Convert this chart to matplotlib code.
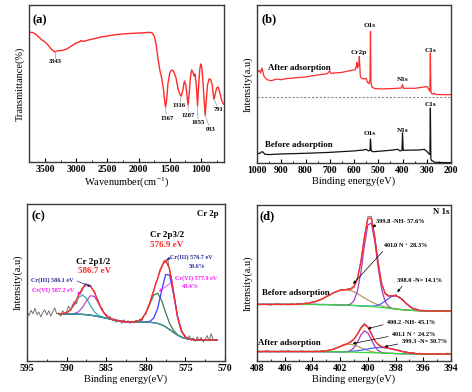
import matplotlib.pyplot as plt
import numpy as np
from matplotlib.ticker import MultipleLocator

plt.rcParams['font.family'] = ['Liberation Serif', 'DejaVu Serif']
plt.rcParams['font.weight'] = 'bold'
plt.rcParams['mathtext.default'] = 'regular'
plt.rcParams['axes.linewidth'] = 1.0
plt.rcParams['axes.edgecolor'] = '#3a3a3a'

# ---------------- (a) FTIR ----------------
ir_wn = [3750, 3700, 3650, 3600, 3550, 3500, 3450, 3400, 3343, 3300, 3250, 3200, 3150, 3100,
         3050, 3000, 2950, 2920, 2900, 2850, 2800, 2700, 2600, 2500, 2400, 2300, 2200, 2100,
         2000, 1900, 1820, 1780, 1750, 1720, 1690, 1660, 1630, 1600, 1580, 1567, 1550, 1530,
         1500, 1470, 1440, 1400, 1370, 1340, 1316, 1290, 1265, 1245, 1225, 1207, 1190, 1170,
         1150, 1130, 1110, 1095, 1075, 1055, 1040, 1020, 1005, 990, 970, 950, 933, 915, 895,
         870, 845, 820, 800, 791, 775, 750, 725, 700, 670, 640]
ir_t = [84.1, 84.0, 83.1, 81.4, 79.7, 78.5, 76.7, 74.4, 72.7, 73.3, 73.5, 73.8, 74.4, 75.6,
        76.7, 77.9, 78.5, 79.4, 78.8, 79.1, 79.7, 80.5, 81.4, 82.0, 82.6, 83.0, 83.3, 83.5,
        83.7, 83.9, 84.1, 83.7, 82.0, 77.3, 69.2, 62.2, 57.6, 50.6, 43.6, 40.7, 44.8, 54.1,
        60.5, 62.2, 61.6, 57.6, 51.7, 48.3, 47.1, 50.6, 55.8, 54.1, 47.7, 41.9, 47.7, 57.6,
        62.2, 61.0, 58.7, 59.9, 53.5, 41.3, 51.7, 62.2, 65.7, 64.5, 56.4, 44.8, 36.0, 44.8, 53.5,
        57.0, 56.7, 53.5, 47.1, 45.3, 47.7, 51.7, 52.3, 49.4, 44.8, 42.4]
ir_peaks = [3343, 1567, 1316, 1207, 1055, 933, 791]

# ---------------- (b) XPS survey ----------------
b_after_e = [1000, 995, 990, 985, 980, 977, 972, 965, 955, 940, 920, 900, 880, 850, 800, 750,
             710, 700, 695, 650, 610, 595, 590, 588, 586, 580, 578, 576, 574, 570, 560, 550,
             545, 538, 534, 532, 530, 526, 515, 480, 420, 405, 400, 396, 350, 310, 300, 292,
             287, 285, 283, 280, 275, 270, 265, 250, 200]
b_after_i = [59.1, 58.1, 58.7, 57.0, 60.2, 58.7, 55.3, 53.7, 52.6, 52.2, 53.2, 52.8, 53.5, 53.9,
             54.5, 55.8, 56.6, 58.3, 56.8, 57.4, 58.7, 59.1, 61.6, 63.7, 60.2, 62.3, 67.5, 61.2,
             54.9, 53.9, 53.2, 53.7, 51.2, 50.3, 52.8, 83.2, 50.7, 48.2, 47.2, 47.0, 47.4, 47.6,
             49.7, 47.4, 47.4, 48.2, 48.6, 47.0, 45.5, 69.6, 45.5, 44.0, 43.8, 44.4, 43.6, 43.4,
             43.4]
b_before_e = [1000, 990, 980, 975, 968, 950, 900, 800, 700, 600, 560, 550, 540, 534, 532, 529,
              520, 450, 420, 410, 402, 400, 397, 330, 310, 300, 292, 287, 285, 283, 280, 275,
              270, 260, 200]
b_before_i = [6.7, 6.3, 7.5, 7.3, 5.9, 5.7, 6.1, 6.5, 7.1, 8.0, 8.6, 9.0, 8.0, 8.4, 15.5, 8.0,
              7.5, 8.4, 9.0, 8.0, 8.4, 19.3, 8.4, 8.6, 9.0, 7.8, 6.3, 5.7, 35.0, 2.9, 1.9, 1.7,
              1.0, 0.8, 0.6]
b_split = 41.9

# ---------------- (c) Cr 2p ----------------
c_raw = [30.5, 27.8, 31.2, 29.0, 32.5, 28.4, 30.1, 26.9, 29.8, 31.6,
         28.2, 30.9, 27.5, 30.2, 32.8, 28.9, 29.6, 27.4, 31.0, 28.6,
         30.3, 33.9, 31.2, 34.8, 36.9, 35.2, 41.5, 41.8, 44.2, 47.9,
         48.3, 47.2, 47.5, 44.6, 43.8, 39.9, 37.5, 33.2, 32.4, 28.9,
         28.6, 26.5, 27.3, 24.9, 25.9, 23.6, 25.2, 24.0, 22.9, 25.1,
         23.2, 24.6, 22.8, 24.3, 23.1, 24.9, 23.6, 25.6, 24.4, 28.1,
         28.7, 33.5, 34.9, 40.5, 43.2, 48.9, 51.0, 57.2, 58.1, 62.8,
         62.0, 64.5, 56.3, 52.1, 43.5, 35.6, 28.0, 23.2, 18.9, 16.1,
         14.8, 12.3, 14.9, 11.8, 13.5, 11.4, 14.2, 12.0, 13.8, 10.9,
         12.6, 15.0, 11.5, 16.3, 12.2]
c_bg = [29.0, 28.9, 28.9, 28.8, 28.8, 28.7, 28.6, 28.4, 28.1, 27.7, 27.2, 26.7, 26.2, 25.6,
        25.0, 24.5, 24.1, 23.9, 23.8, 23.7, 23.7, 23.6, 23.6, 23.5, 23.3, 22.8, 21.9, 20.6,
        18.9, 17.0, 15.3, 14.0, 13.2, 12.7, 12.4, 12.3, 12.2, 12.2, 12.1, 12.1, 12.1]
c_crvi_1 = [0, 0.16, 0.79, 2.64, 6.25, 10.5, 12.5, 10.5, 6.25, 2.64, 0.79, 0.16] + [0] * 29
c_criii_1 = [0, 0, 0, 0, 0.39, 1.56, 4.41, 8.81, 12.45, 12.45, 8.81, 4.41, 1.56, 0.39, 0.07] + [0] * 26
c_crvi_2 = [0] * 20 + [0.56, 2.1, 5.8, 11.8, 17.7, 19.4, 15.6, 9.2, 4.0, 1.3, 0.3] + [0] * 10
c_criii_2 = [0] * 22 + [0.08, 0.58, 2.9, 9.6, 21.9, 33.6, 34.9, 24.6, 11.7, 3.8, 0.82, 0.12] + [0] * 7

# ---------------- (d) N 1s ----------------
d_raw_before = [34.9, 34.3, 35.0, 34.5, 34.1, 34.8, 35.2, 34.4, 34.7, 34.2, 35.1, 34.6, 35.3,
                34.6, 35.6, 35.2, 36.4, 36.1, 37.8, 38.0, 39.9, 40.4, 42.3, 42.6, 44.1, 43.6,
                44.6, 44.9, 46.6, 51.9, 63.0, 78.5, 91.2, 91.5, 78.6, 61.5, 48.3, 41.9, 40.5,
                39.6, 41.0, 38.8, 38.1, 34.9, 33.9, 31.5, 31.8, 30.2, 31.0, 29.9, 30.8, 30.0,
                30.7, 30.1, 30.6, 29.8, 30.4]
d_raw_after = [4.6, 3.9, 4.4, 4.8, 4.0, 4.5, 3.8, 4.6, 4.2, 4.9, 3.9, 4.4, 4.1, 4.7, 4.0, 4.5,
               3.9, 4.6, 4.3, 5.0, 4.6, 5.4, 5.5, 6.9, 7.3, 8.9, 9.0, 10.8, 12.4, 15.8, 19.8,
               22.4, 20.3, 16.1, 11.0, 9.1, 7.0, 7.3, 6.1, 6.3, 5.0, 5.2, 3.9, 4.1, 3.1, 3.6,
               2.6, 3.2, 2.4, 3.0, 2.5, 3.1, 2.3, 2.9, 2.6, 3.2, 2.7]
d_bg_before = [34.6] * 12 + [34.6, 34.6, 34.6, 34.6, 34.6, 34.6, 34.5, 34.5, 34.5, 34.4, 34.4,
               34.3, 34.2, 34.1, 34.0, 34.0, 33.9, 33.8, 33.6, 33.5, 33.4, 33.2, 33.0, 32.8,
               32.6, 32.4, 32.1, 31.9, 31.6, 31.4, 31.2, 31.0, 30.8, 30.7, 30.6, 30.5, 30.4,
               30.4, 30.4, 30.3, 30.3] + [30.3] * 4
d_nh_before = [0] * 26 + [0.15, 0.79, 3.1, 9.5, 22.0, 38.9, 52.4, 53.8, 42.2, 25.2, 11.4, 4.0,
                          1.06, 0.22] + [0] * 17
d_np_before = [0] * 12 + [0.18, 0.32, 0.54, 0.87, 1.35, 2.0, 2.86, 3.89, 5.06, 6.32, 7.55, 8.64,
                          9.46, 9.92, 9.97, 9.58, 8.82, 7.78, 6.57, 5.31, 4.11, 3.05, 2.16, 1.47,
                          0.96, 0.6, 0.36, 0.2, 0.11, 0.05] + [0] * 15
d_n_before = [0] * 32 + [0.075, 0.23, 0.6, 1.34, 2.6, 4.37, 6.32, 7.9, 8.5, 7.9, 6.32, 4.37, 2.6,
                         1.34, 0.6, 0.23, 0.075] + [0] * 8
d_bg_after = [4.2] * 12 + [4.2, 4.2, 4.2, 4.2, 4.2, 4.2, 4.15, 4.1, 4.1, 4.1, 4.05, 4.0, 4.0,
                           3.95, 3.9, 3.85, 3.8, 3.7, 3.65, 3.6, 3.5, 3.4, 3.35, 3.3, 3.2, 3.1,
                           3.05, 3.0, 2.9, 2.85, 2.8, 2.75, 2.7, 2.65, 2.6, 2.6, 2.6, 2.6, 2.6,
                           2.6, 2.6] + [2.6] * 4
d_nh_after = [0] * 26 + [0.22, 0.92, 2.9, 6.6, 11.2, 13.9, 12.7, 8.5, 4.2, 1.5, 0.4, 0.08] + [0] * 19
d_np_after = [0] * 18 + [0.11, 0.26, 0.52, 0.97, 1.62, 2.47, 3.41, 4.27, 4.85, 4.99, 4.66, 3.95,
                         3.03, 2.11, 1.34, 0.77, 0.4, 0.19, 0.08] + [0] * 20
d_n_after = [0] * 24 + [0.09, 0.16, 0.27, 0.44, 0.69, 1.02, 1.42, 1.89, 2.38, 2.85, 3.25, 3.51,
                        3.6, 3.51, 3.25, 2.85, 2.38, 1.89, 1.42, 1.02, 0.69, 0.44, 0.27, 0.16,
                        0.09, 0.05] + [0] * 7

W, H = 472, 392
RED = '#ff2a2a'


def box(l, t, r, b):
    return [l / W, 1 - b / H, (r - l) / W, (b - t) / H]


def style(ax, xmaj, xmin, xlabel):
    ax.set_yticks([])
    ax.xaxis.set_major_locator(MultipleLocator(xmaj))
    ax.xaxis.set_minor_locator(MultipleLocator(xmin))
    ax.tick_params(axis='x', which='major', direction='in', labelsize=7, length=3, width=0.8, pad=2)
    ax.tick_params(axis='x', which='minor', direction='in', length=1.5, width=0.6)
    ax.set_xlabel(xlabel, fontsize=7.5, labelpad=1)


fig = plt.figure(figsize=(4.72, 3.92), dpi=100)

# (a)
ax = fig.add_axes(box(29, 5, 224, 162))
ax.plot(ir_wn, ir_t, color=RED, lw=1.0)
ax.set_xlim(3756, 631)
ax.set_ylim(8.7, 100)
style(ax, 500, 250, 'Wavenumber(cm$^{-1}$)')
ax.set_ylabel('Transmittance(%)', fontsize=7.5, labelpad=3)
ax.text(0.02, 0.905, '(a)', transform=ax.transAxes, fontsize=9, va='center')
lab_pos = [(3340, 66.9), (1550, 34.1), (1348, 41.3), (1204, 36.0), (1043, 31.6), (840, 27.7), (723, 39.4)]
line_end = [(3343, 69.3), (1558, 36.5), (1335, 43.6), (1205, 38.3), (1050, 33.9), (875, 30.0), (750, 41.7)]
for p, (tx, ty), (lx, ly) in zip(ir_peaks, lab_pos, line_end):
    yv = ir_t[ir_wn.index(p)]
    ax.plot([p, lx], [yv, ly], color='#999999', lw=0.5)
    ax.text(tx, ty, str(p), fontsize=4.8, ha='center', va='center')

# (b)
ax = fig.add_axes(box(257, 5, 451, 163))
ax.plot(b_after_e, b_after_i, color=RED, lw=0.9)
ax.plot(b_before_e, b_before_i, color='#111111', lw=0.9)
ax.axhline(b_split, color='#888888', lw=0.8, ls=(0, (2, 1.5)))
ax.set_xlim(1000, 200)
ax.set_ylim(0.4, 99.8)
style(ax, 100, 50, 'Binding energy(eV)')
ax.set_ylabel('Intensity(a.u)', fontsize=7.5, labelpad=3)
ax.text(0.024, 0.911, '(b)', transform=ax.transAxes, fontsize=9, va='center')
ax.text(955, 60.4, 'After adsorption', fontsize=6.3, va='center')
ax.text(967, 11.5, 'Before adsorption', fontsize=6.3, va='center')
for s, x, y in [('Cr2p', 579, 70.0), ('O1s', 534, 86.8), ('N1s', 397, 52.8), ('C1s', 284, 71.3),
                ('O1s', 534, 18.7), ('N1s', 399, 20.8), ('C1s', 284, 37.1)]:
    ax.text(x, y, s, fontsize=5.2, ha='center', va='center')

# (c)
ax = fig.add_axes(box(27, 204, 225, 361))
ce = np.linspace(591, 571, len(c_bg))
cbg = np.array(c_bg)
ax.plot(np.linspace(595, 571.5, len(c_raw)), c_raw, color='#606060', lw=0.6)
ax.plot(ce, cbg + c_crvi_1, color='#3fb0a0', lw=0.9)
ax.plot(ce, cbg + c_criii_1, color='#b050d0', lw=0.9)
ax.plot(ce, cbg + c_crvi_2, color='#3a7d4a', lw=0.9)
ax.plot(ce, cbg + c_criii_2, color='#3c3cff', lw=0.9)
ax.plot(ce, cbg, color='#3aa08c', lw=0.9)
ax.plot(ce, cbg + np.array(c_crvi_1) + c_criii_1 + np.array(c_crvi_2) + c_criii_2, color=RED, lw=1.0)
ax.set_xlim(595, 570)
ax.set_ylim(-1.3, 99.4)
style(ax, 5, 2.5, 'Binding energy(eV)')
ax.set_ylabel('Intensity(a.u)', fontsize=7.5, labelpad=3)
ax.text(0.025, 0.919, '(c)', transform=ax.transAxes, fontsize=9, va='center')
ax.text(570.8, 93, 'Cr 2p', fontsize=6.3, ha='right', va='center')
ax.text(586.7, 62.4, 'Cr 2p1/2', fontsize=6.6, ha='center', va='center')
ax.text(586.5, 56.4, '586.7 eV', fontsize=6.6, ha='center', va='center', color=RED)
ax.text(577.3, 79.5, 'Cr 2p3/2', fontsize=6.6, ha='center', va='center')
ax.text(577.3, 73.1, '576.9 eV', fontsize=6.6, ha='center', va='center', color=RED)
NAVY, MAG = '#2b2ba0', '#ff10ff'
ax.text(577.0, 65.6, 'Cr(III) 576.7 eV', fontsize=4.4, va='center', color=NAVY)
ax.text(573.5, 59.6, '59.6%', fontsize=4.4, ha='center', va='center', color=NAVY)
ax.text(576.3, 51.7, 'Cr(VI) 577.9 eV', fontsize=4.4, va='center', color=MAG)
ax.text(574.4, 46.3, '40.4%', fontsize=4.4, ha='center', va='center', color=MAG)
ax.text(594.5, 50.6, 'Cr(III) 586.1 eV', fontsize=4.4, va='center', color=NAVY)
ax.text(594.4, 44.0, 'Cr(VI) 587.2 eV', fontsize=4.4, va='center', color=MAG)
arr = dict(arrowstyle='-|>', lw=0.5, mutation_scale=4)
ax.annotate('', xy=(586.6, 45.7), xytext=(589.0, 50.6), arrowprops=dict(arr, color=NAVY))
ax.annotate('', xy=(587.9, 40.4), xytext=(588.9, 43.5), arrowprops=dict(arr, color=MAG))
ax.annotate('', xy=(577.5, 62.0), xytext=(577.0, 64.8), arrowprops=dict(arr, color=NAVY))
ax.annotate('', xy=(578.6, 42.2), xytext=(576.4, 50.5), arrowprops=dict(arr, color=MAG))

# (d)
ax = fig.add_axes(box(257, 205, 451, 361))
de = np.linspace(408, 394, len(d_raw_before))
for raw, bg, nh, npl, n in [(d_raw_before, d_bg_before, d_nh_before, d_np_before, d_n_before),
                            (d_raw_after, d_bg_after, d_nh_after, d_np_after, d_n_after)]:
    bg = np.array(bg)
    ax.plot(de, raw, color='#707070', lw=0.6)
    ax.plot(de, bg + npl, color='#b0a060', lw=0.9)
    ax.plot(de, bg + n, color='#4060ff', lw=0.9)
    ax.plot(de, bg + nh, color='#a040c0', lw=0.9)
    ax.plot(de, bg, color='#33dd33', lw=0.9)
    ax.plot(de, bg + np.array(nh) + npl + np.array(n), color=RED, lw=1.0)
ax.set_xlim(408, 394)
ax.set_ylim(-1.9, 98.7)
style(ax, 2, 1, 'Binding energy(eV)')
ax.set_ylabel('Intensity(a.u)', fontsize=7.5, labelpad=3)
ax.text(0.015, 0.925, '(d)', transform=ax.transAxes, fontsize=9, va='center')
ax.text(394.1, 94.4, 'N 1s', fontsize=6.3, ha='right', va='center')
ax.text(407.66, 42.1, 'Before adsorption', fontsize=6.3, va='center')
ax.text(407.9, 9.5, 'After adsorption', fontsize=6.3, va='center')
arrk = dict(arrowstyle='-|>', lw=0.5, mutation_scale=4, color='k')
for s, tx, ty, px, py, ax0, ay0 in [
        ('399.8 -NH- 57.6%', 399.4, 88.0, 399.8, 83.0, 399.3, 87.0),
        ('401.0 N$^+$ 28.3%', 398.9, 72.5, 401.2, 46.5, 398.8, 70.0),
        ('398.0 -N= 14.1%', 397.9, 49.7, 398.0, 41.1, 397.4, 47.8),
        ('400.2 -NH- 45.1%', 398.64, 22.8, 400.2, 18.5, 398.7, 21.9),
        ('401.1 N$^+$ 24.2%', 398.3, 15.3, 401.3, 9.0, 398.35, 14.2),
        ('399.3 -N= 30.7%', 397.56, 10.5, 399.0, 6.9, 397.65, 9.4)]:
    ax.text(tx, ty, s, fontsize=4.5, va='center')
    ax.annotate('', xy=(px, py), xytext=(ax0, ay0), arrowprops=arrk)

fig.savefig('out.png', dpi=100, facecolor='white')
